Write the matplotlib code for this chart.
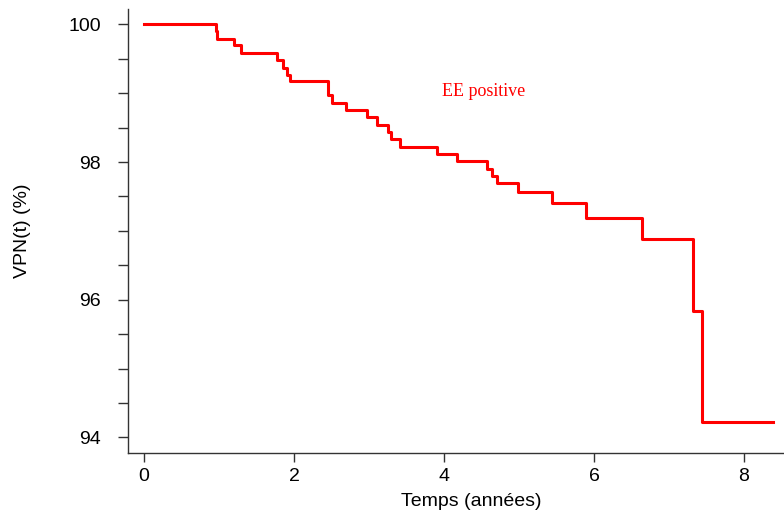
import numpy as np
import matplotlib
matplotlib.use("Agg")
import matplotlib.pyplot as plt

# Kaplan-Meier style step data (time in years, VPN in %)
times = [0.0, 0.96, 0.977, 1.20, 1.29, 1.77, 1.86, 1.91, 1.95, 2.45, 2.51,
         2.69, 2.98, 3.11, 3.25, 3.29, 3.41, 3.91, 4.17, 4.57, 4.64, 4.70,
         4.98, 5.44, 5.89, 6.64, 7.32, 7.44, 8.38]
vpn = [100.0, 99.90, 99.79, 99.70, 99.59, 99.48, 99.37, 99.27, 99.17, 98.97,
       98.85, 98.75, 98.65, 98.54, 98.44, 98.33, 98.22, 98.12, 98.01, 97.90,
       97.80, 97.69, 97.56, 97.40, 97.19, 96.88, 95.83, 94.22, 94.22]

x_ticks = [0, 2, 4, 6, 8]
y_ticks = [94, 94.5, 95, 95.5, 96, 96.5, 97, 97.5, 98, 98.5, 99, 99.5, 100]
y_labels = ["94", "", "", "", "96", "", "", "", "98", "", "", "", "100"]

fig = plt.figure(figsize=(7.84, 5.13), dpi=100)
# plot region extends past the right edge of the (cropped) figure
ax = fig.add_axes([128 / 784, 1 - 453 / 513, (814 - 128) / 784, (453 - 9) / 513])

ax.step(times, vpn, where="post", color="#ff0000", linewidth=2.2)

ax.set_xlim(-0.213, 8.933)
ax.set_ylim(93.774, 100.222)

for s in ["top", "right"]:
    ax.spines[s].set_visible(False)
for s in ["left", "bottom"]:
    ax.spines[s].set_color("#333333")
    ax.spines[s].set_linewidth(1.0)

sans = ["Liberation Sans", "DejaVu Sans"]
ax.set_xticks(x_ticks)
ax.set_xticklabels([str(t) for t in x_ticks], family=sans, fontsize=14)
ax.set_yticks(y_ticks)
ax.set_yticklabels(y_labels, family=sans, fontsize=14)
ax.tick_params(axis="x", length=6.5, width=1.0, color="#333333", pad=4)
ax.tick_params(axis="y", length=7.5, width=1.0, color="#333333", pad=12)

ax.set_xlabel("Temps (années)", family=sans, fontsize=14, labelpad=6)
ax.set_ylabel("VPN(t) (%)", family=sans, fontsize=14, labelpad=27)

ax.text(4.53, 99.02, "EE positive", color="#ff0000", fontsize=13,
        family=["Liberation Serif", "DejaVu Serif"], ha="center", va="center")

fig.savefig("out.png", dpi=100)
